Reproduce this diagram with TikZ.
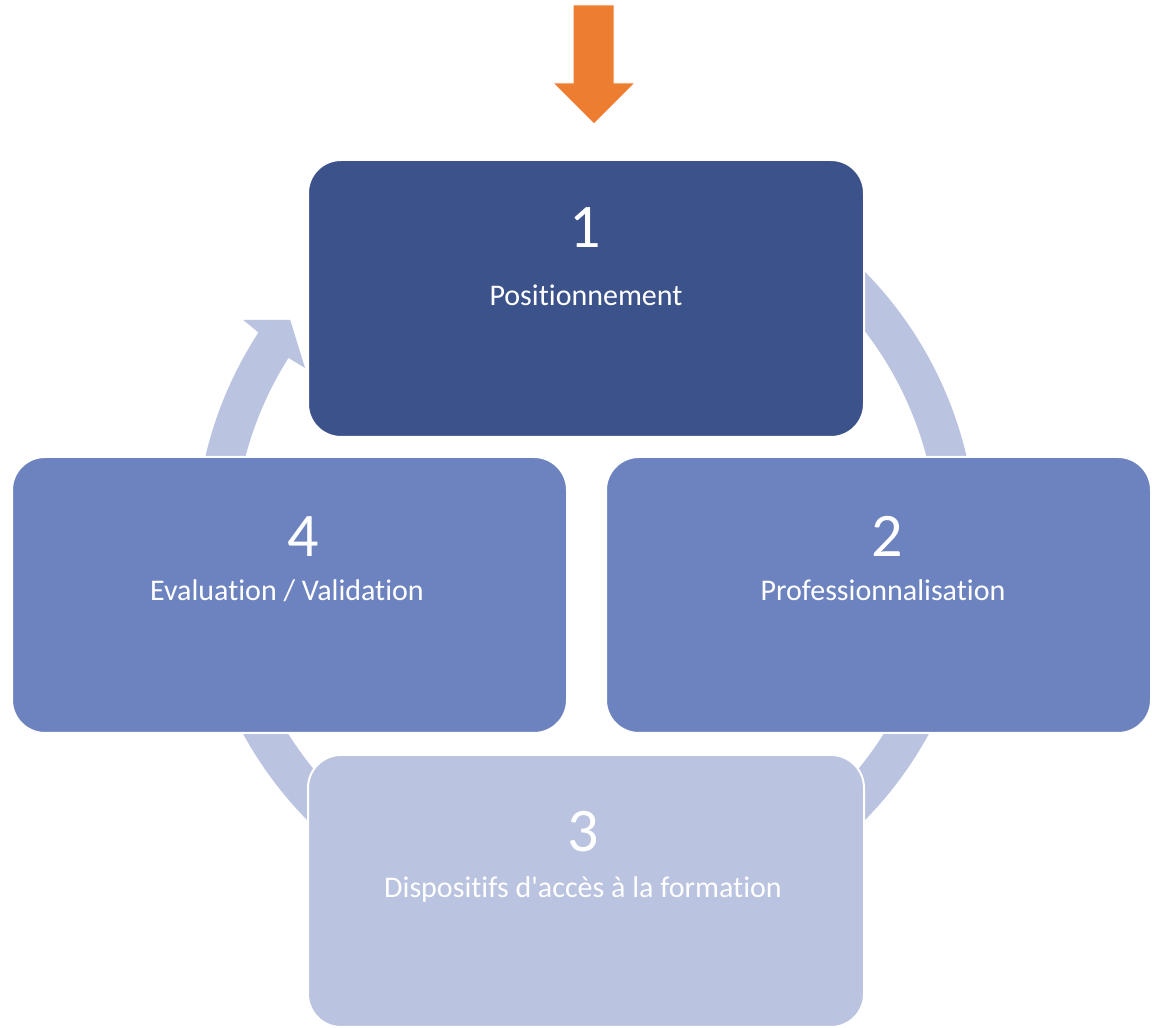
\documentclass[tikz,border=0pt]{standalone}
\usepackage{fontspec}
\setmainfont[Ligatures = CommonOff]{Carlito}
\definecolor{bleufonce}{RGB}{59,82,138}
\definecolor{bleumoyen}{RGB}{109,131,192}
\definecolor{bleuclair}{RGB}{186,195,223}
\definecolor{orangefleche}{RGB}{237,125,49}
\tikzset{
	etape/.style = {draw = white, line width = 2pt, rounded corners = 33pt, inner sep = 0pt, minimum width = 556pt, minimum height = 277pt},
	numero/.style = {text = white, anchor = base, inner sep = 0pt, font = \fontsize{62}{62}\selectfont},
	intitule/.style = {text = white, anchor = base, inner sep = 0pt, font = \fontsize{30}{36}\selectfont}
}

\begin{document}
\begin{tikzpicture}[x = 1pt, y = 1pt]
	\useasboundingbox (0, 0) rectangle (1152, 1028);
	\coordinate (centre) at (586, 482);
	% anneau avec sa pointe
	\fill[bleuclair] ([shift = {(60:391pt)}]centre) arc[start angle = 60, end angle = -213.1, radius = 391pt]
		-- ([shift = {(146.6:410.8pt)}]centre) -- ([shift = {(142.6:372.4pt)}]centre) -- ([shift = {(147.65:332.6pt)}]centre)
		-- ([shift = {(147.7:352pt)}]centre) arc[start angle = -212.3, end angle = 60, radius = 352pt] -- cycle;
	% etapes
	\node[etape, fill = bleufonce] (e1) at (586, 729.5) {};
	\node[etape, fill = bleumoyen, minimum width = 545pt, minimum height = 276pt] (e2) at (878.5, 433) {};
	\node[etape, fill = bleuclair, minimum height = 272pt] (e3) at (586, 137) {};
	\node[etape, fill = bleumoyen, minimum width = 555pt, minimum height = 276pt] (e4) at (289.5, 433) {};
	\node[numero] (n1) at (585, 780) {1};
	\node[intitule] (t1) at (586, 722) {Positionnement};
	\node[numero] (n2) at (887, 471) {2};
	\node[intitule] (t2) at (883, 427) {Professionnalisation};
	\node[numero] (n3) at (583, 176) {3};
	\node[intitule] (t3) at (583, 130) {Dispositifs d\textquotesingle accès à la formation};
	\node[numero] (n4) at (303, 471) {4};
	\node[intitule] (t4) at (287, 427) {Evaluation / Validation};
	% fleche d'entree
	\filldraw[fill = orangefleche, draw = white, line width = 1pt] (573, 1023) -- (614, 1023) -- (614, 945) -- (635, 945) -- (594, 904) -- (553, 945) -- (573, 945) -- cycle;
\end{tikzpicture}
\end{document}
